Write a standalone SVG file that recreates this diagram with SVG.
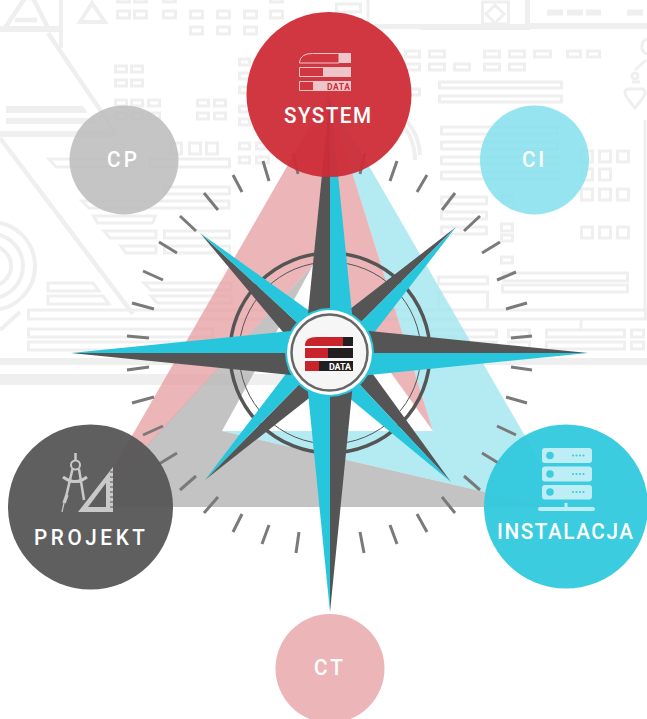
<svg xmlns="http://www.w3.org/2000/svg" width="647" height="719" viewBox="0 0 647 719">
<style>
.bg{fill:none;stroke:#efefef;stroke-width:3}
.bf{fill:#efefef}
.tk{stroke:#7a7a7a;stroke-width:3;fill:none}
.dk{fill:#555555}
.cy{fill:#28c6dd}
.lb{font-family:"Roboto","Liberation Sans",sans-serif;font-weight:500;font-size:22.500px;fill:#ffffff}
</style>
<rect width="647" height="719" fill="#ffffff"/>
<g id="background">
<path class="bg" d="M117.500 11h12v7h-12zM134.500 11h12v7h-12zM163.500 11h12v7h-12zM190.500 11h12v7h-12zM217.500 11h12v7h-12zM190.500 27h12v7h-12zM217.500 27h12v7h-12zM117.500-5h12v7h-12zM134.500-5h12v7h-12zM163.500-5h12v7h-12zM115.500 66h11v6h-11zM131.500 66h11v6h-11zM115.500 80h11v6h-11zM131.500 80h11v6h-11zM115.500 100h11v6h-11zM131.500 100h11v6h-11zM148.500 100h11v6h-11zM115.500 113h11v6h-11zM131.500 113h11v6h-11zM148.500 113h11v6h-11zM197.500 100h11v6h-11zM214.500 100h11v6h-11zM197.500 113h11v6h-11zM214.500 113h11v6h-11zM170.500 143h11v11h-11zM189.500 143h11v11h-11zM206.500 143h11v11h-11zM149.500 159h80v8h-80zM49 159h85v8h-78zM164.500 187h65v7h-65zM82 201h147v7h-140zM93.500 216h62l-3 7h-55zM164.500 231h65v7h-65zM104 231h52v7h-46zM164.500 246h65v7h-65zM121 246h35v7h-30zM48 283h45l6 8h-51zM48 296h55l6 8h-61zM144 283h87v7h-80zM151 296h80v7h-74zM28.500 310h617v9h-617zM28.500 329h184v8h-184zM28.500 342h184v8h-184zM244.500 11h12v7h-12zM270.500 11h12v7h-12zM244.500 27h12v7h-12zM270.500 -5h12v7h-12zM239.500 59h10v6h-10zM239.500 73h10v6h-10zM239.500 87h10v6h-10zM239.500 106h10v6h-10zM239.500 119h10v6h-10zM239.500 143h10v6h-10zM239.500 157h10v6h-10zM256.500 143h12v6h-12zM256.500 157h12v6h-12zM336.500 4h24v8h-24zM405.500 51h14v6h-14zM405.500 64h14v6h-14zM405.500 89h14v6h-14zM429.500 51h15v6h-15zM484.500 51h15v6h-15zM509.500 51h15v6h-15zM534.500 51h16v6h-16zM567.500 51h13v6h-13zM587.500 51h12v6h-12zM429.500 64h15v6h-15zM454.500 64h15v6h-15zM484.500 64h15v6h-15zM509.500 64h15v6h-15zM439.500 82h122v6h-122zM439.500 96h122v6h-122zM441.500 127h116v7h-116zM441.500 142h116v7h-116zM441.500 157h116v7h-116zM441.500 172h116v7h-116zM441.500 197h45v7h-45zM441.500 212h45v7h-45zM441.500 227h45v7h-45zM501.500 196h11v6h-11zM501.500 224h11v7h-11zM501.500 235h11v6h-11zM501.500 257h11v6h-11zM581.500 151h11v11h-11zM599.500 151h11v11h-11zM617.500 151h11v11h-11zM581.500 169h11v11h-11zM599.500 169h11v11h-11zM581.500 189h11v11h-11zM599.500 189h11v11h-11zM617.500 189h11v11h-11zM581.500 227h11v11h-11zM599.500 227h11v11h-11zM617.500 227h11v11h-11zM503.500 273h124v8h-124zM502.500 285h125v7h-125zM438.500 277h49v7h-49zM438.500 292h49v18h-49zM430.500 330h66v7h-66zM508.500 330h21v7h-21zM546.500 330h78v7h-78zM631.500 330h12v7h-12zM430.500 342h66v7h-66zM508.500 342h21v7h-21zM546.500 342h78v7h-78zM631.500 342h12v7h-12zM548.500 11h13v3h-13zM568.500 11h13v3h-13zM587.500 11h12v3h-12zM628.500 11h13v3h-13zM482.500 2h26v22h-26zM495 5l9 9-9 9-9-9zM581 320v9M645 120v190M368 0v26"/>
<path class="bf" d="M420 24h110v6h-110zM530 23h117v6h-117zM368 24h52v5h-52zM6 106h77l5 7h-82zM6 118h86l5 6h-91zM0 131h113l5 6h-118zM0 26h60v6h-60zM0 358h647v7h-647zM0 374h310v11h-310zM525 0h5v28h-5zM59 0h4v48h-4z"/>
<path class="bg" style="stroke-width:4.500" d="M5 28 25-2H33L48 28M48 33 117 135M0 138 133 314M15 20H37"/>
<path class="bg" style="stroke-width:4" d="M92 3 80 22H105zM-9 222a44 44 0 0 1 0 88M-9 234a32 32 0 0 1 0 64M-9 246a20 20 0 0 1 0 40M0 330 20 312M400 115a55 55 0 0 1 20 40M360 105a55 55 0 0 1 55 55"/>
<path class="bg" style="stroke-width:3" d="M647 39a8 8 0 0 0 0 15M646 60 635 70M632 82h8M628 89h14q3 0 3 4 0 3-10 15-10-12-10-15 0-4 3-4z"/>
<circle class="bg" cx="635" cy="76" r="3"/>
</g>
<g id="triangles">
<polygon points="328,95 566,507 550,507 222,431 433,431" fill="#9fe4ee" fill-opacity=".78"/>
<polygon points="90,507 313,265 222,431 550,507" fill="#b6b6b6" fill-opacity=".82"/>
<polygon points="328,95 91,507 313,265 433,431" fill="#e59ea2" fill-opacity=".75"/>
</g>
<g id="connectors">
<path class="tk" d="M127 336 149 338M127 370 149 367M132 303 154 309M143 271 163 280M159 242 177 253M180 216 196 231M204 193 218 210M233 175 242 192M263 161 269 181M293 153 298 174M365 153 360 174M397 161 390 181M427 175 417 192M455 193 442 210M480 216 464 231M500 242 482 253M516 272 497 280M527 303 506 309M532 336 511 338M532 370 511 367M527 403 506 397M516 435 497 426M500 464 482 453M480 490 464 476M455 513 442 497M427 532 417 514M397 544 390 525M364 553 360 532M296 553 299 532M262 544 269 525M233 532 242 514M204 513 218 497M180 490 196 476M159 464 177 453M143 435 163 426M132 403 154 397"/>
</g>
<g id="compass">
<circle cx="330" cy="353" r="100" fill="none" stroke="#555555" stroke-width="3.500"/>
<circle cx="330" cy="353" r="91" fill="none" stroke="#555555" stroke-width="1"/>
<polygon class="dk" points="200,233 330,353 314,369"/><polygon class="cy" points="200,233 330,353 346,337"/>
<polygon class="dk" points="456,227 330,353 314,337"/><polygon class="cy" points="456,227 330,353 346,369"/>
<polygon class="dk" points="451,482 330,353 346,337"/><polygon class="cy" points="451,482 330,353 314,369"/>
<polygon class="dk" points="205,480 330,353 346,369"/><polygon class="cy" points="205,480 330,353 314,337"/>
<polygon class="dk" points="330,95 330,353 304,353"/><polygon class="cy" points="330,95 330,353 356,353"/>
<polygon class="dk" points="588,353 330,353 330,327"/><polygon class="cy" points="588,353 330,353 330,379"/>
<polygon class="dk" points="330,612 330,353 356,353"/><polygon class="cy" points="330,612 330,353 304,353"/>
<polygon class="dk" points="71,353 330,353 330,379"/><polygon class="cy" points="71,353 330,353 330,327"/>
<circle cx="329.500" cy="352.500" r="44.500" fill="#28c6dd"/>
<circle cx="329.500" cy="352.500" r="42.500" fill="#ffffff"/>
<circle cx="329.500" cy="352.500" r="38" fill="#f6f6f6" stroke="#666666" stroke-width="2.500"/>
<path fill="#c9232b" d="M305 346v-1q0-8 12-8h26v9zM305 348h23v10h-23zM305 361h14v10h-14z"/>
<path fill="#231f20" d="M343 337h10v9h-10zM328 348h25v10h-25zM319 361h34v10h-34z"/>
<text x="329" y="370" font-family="Roboto,'Liberation Sans',sans-serif" font-weight="700" font-size="9" fill="#ffffff" textLength="22">DATA</text>
</g>
<g id="system">
<circle cx="329" cy="94.500" r="82.500" fill="#cd2c36" fill-opacity=".95"/>
<path fill="#eec6c9" d="M339 53h12v10h-12zM323 67h28v10h-28zM313 81h38v10h-38z"/>
<path fill="none" stroke="#eec6c9" stroke-width="1" d="M299.500 63v-1q1-8.500 13-8.500h26.500v9.500zM299.500 67.500h24v9h-24zM299.500 81.500h14v9h-14z"/>
<text x="327" y="90" font-family="Roboto,'Liberation Sans',sans-serif" font-weight="700" font-size="8.500" fill="#cd2c36" textLength="23">DATA</text>
<text class="lb" transform="translate(284 123) scale(.92 1)" textLength="94.600">SYSTEM</text>
</g>
<g id="cp">
<circle cx="124" cy="160" r="54.500" fill="#bdbdbd" fill-opacity=".88"/>
<text class="lb" transform="translate(107 167) scale(.92 1)" textLength="32.600">CP</text>
</g>
<g id="ci">
<circle cx="534.500" cy="160" r="54.500" fill="#84dfec" fill-opacity=".85"/>
<text class="lb" transform="translate(522 167) scale(.92 1)" textLength="24">CI</text>
</g>
<g id="ct">
<circle cx="330" cy="668.500" r="54.500" fill="#ecb5b8"/>
<text class="lb" transform="translate(314 675) scale(.92 1)" textLength="31.500">CT</text>
</g>
<g id="projekt">
<circle cx="90.500" cy="507" r="82.500" fill="#565656" fill-opacity=".95"/>
<path fill="#c9c9c9" fill-rule="evenodd" d="M78 512 113 467V512zM88 507H106V483z"/>
<path stroke="#565656" stroke-width="1" d="M110 472h3M110 477h3M110 482h3M110 487h3M110 492h3M110 497h3M110 502h3M110 507h3"/>
<g fill="none" stroke="#c9c9c9">
<circle cx="75.500" cy="465" r="4.500" stroke-width="2"/>
<path stroke-width="2.500" d="M75.500 453V461"/>
<path stroke-width="2.500" d="M72.500 469 66 497M79 469 84 500"/>
<path stroke-width="1.500" d="M69 482H82"/>
<path stroke-width="3" d="M63 477Q75 486 87 477"/>
<path stroke-width="3.500" d="M67 495 64 503"/>
<path stroke-width="1.200" d="M64 503 62 512"/>
</g>
<text class="lb" transform="translate(34 545) scale(.92 1)" textLength="120.600">PROJEKT</text>
</g>
<g id="instalacja">
<circle cx="566" cy="506.500" r="82" fill="#32c9de" fill-opacity=".95"/>
<g fill="#bdeef5">
<rect x="542" y="448" width="50" height="15" rx="3"/>
<rect x="542" y="466.500" width="50" height="15" rx="3"/>
<rect x="542" y="485" width="50" height="14.500" rx="3"/>
<rect x="564.500" y="503" width="3" height="6"/>
<rect x="538" y="507" width="57" height="4" rx="2"/>
</g>
<g fill="#3ecde0">
<circle cx="550" cy="455.500" r="3.800"/><circle cx="550" cy="474" r="3.800"/><circle cx="550" cy="492" r="3.800"/>
<path stroke="#3ecde0" stroke-width="2.200" stroke-linecap="round" stroke-dasharray="0 3.500" d="M573 455.500H587M573 474H587M573 492H587"/>
</g>
<text class="lb" transform="translate(497 539) scale(.92 1)" textLength="147.800">INSTALACJA</text>
</g>
</svg>
